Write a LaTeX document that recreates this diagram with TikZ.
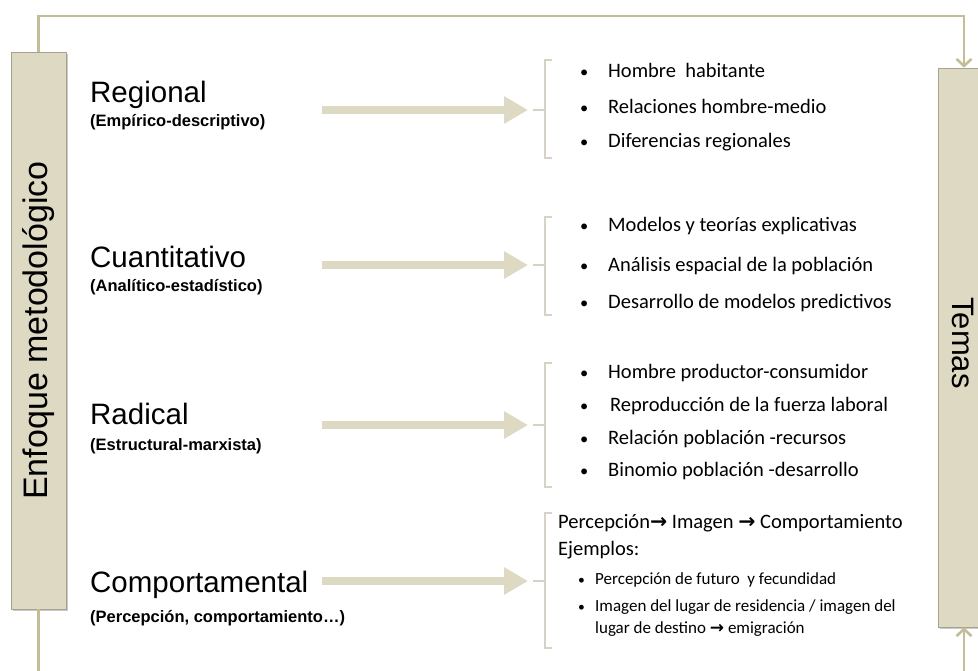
\documentclass[tikz,border=0pt]{standalone}
\usepackage{fontspec}
\setmainfont{Liberation Sans}
\newfontfamily\itemfont{Carlito}
\newfontfamily\arrowfont{DejaVu Sans}
\usetikzlibrary{arrows.meta,positioning,shadows}
\definecolor{tanfill}{HTML}{DDD9C3}
\definecolor{tanline}{HTML}{C4BD97}
\definecolor{tanedge}{HTML}{A6A28C}
\definecolor{brkcol}{HTML}{D6D3C6}
\newcommand\bl{\makebox[28pt][l]{\scalebox{.8}{•}}}
\newcommand\sbl{\makebox[17pt][l]{\scalebox{.8}{•}}}
\newcommand\rarr{{\arrowfont\bfseries →}}

\begin{document}
\begin{tikzpicture}[x=1pt,y=-1pt,>={Straight Barb[length=7pt,width=15pt]},
  side/.style={draw=tanedge,fill=tanfill,line width=0.6pt,inner sep=0pt,
    drop shadow={shadow xshift=2pt,shadow yshift=-2pt,opacity=.35,fill=black!60}},
  conn/.style={draw=tanline,line width=2.6pt},
  fat/.style={draw=tanfill,line width=8pt,-{Triangle[length=24pt,width=26pt]}},
  brk/.style={draw=brkcol,line width=1.4pt},
  ttl/.style={anchor=base west,inner sep=0pt,font=\fontsize{29.5}{31}\selectfont},
  sub/.style={anchor=base west,inner sep=0pt,font=\bfseries\fontsize{16.5}{18}\selectfont},
  item/.style={anchor=base west,inner sep=0pt,font=\itemfont\fontsize{20.5}{23}\selectfont},
  small/.style={anchor=base west,inner sep=0pt,font=\itemfont\fontsize{17}{20}\selectfont}]
\useasboundingbox (0,0) rectangle (978,670);
% side boxes
\node[side,minimum width=55pt,minimum height=557pt] (lbox) at (38.5,330.5) {};
\node[side,minimum width=52pt,minimum height=559pt] (rbox) at (964,347.5) {};
\node[rotate=90,font=\fontsize{34}{36}\selectfont] (lbl) at (lbox.center) {Enfoque metodológico};
\node[rotate=-90,font=\fontsize{31}{33}\selectfont] (rbl) at (963,343) {Temas};
\coordinate (top) at (500,16);
\coordinate (lfoot) at (38.5,680);
\coordinate (rfoot) at (964,680);
\draw[conn,->] (lbox.north) -- (lbox.north |- top) -| (rbox.north);
\draw[conn] (lbox.south) -- (lfoot);
\draw[conn,->] (rfoot) -- (rbox.south);
% approaches
\node[ttl] (regT) at (90,102) {Regional};
\node[sub] (regS) at (90,126) {(Empírico-descriptivo)};
\node[ttl] (cuaT) at (90,267) {Cuantitativo};
\node[sub] (cuaS) at (90,291) {(Analítico-estadístico)};
\node[ttl] (radT) at (90,424) {Radical};
\node[sub] (radS) at (90,450) {(Estructural-marxista)};
\node[ttl] (comT) at (90,592) {Comportamental};
\node[sub] (comS) at (90,622) {(Percepción, comportamiento…)};
% arrows
\foreach \n/\y in {1/110,2/265,3/425,4/581}{
  \coordinate (s\n) at (322,\y);
  \coordinate (t\n) at (528,\y);
  \draw[fat] (s\n) -- (t\n);
}
% brackets
\foreach \t/\b/\m in {60/158/110,217/315/265,363/487/425,513/648/581}{
  \draw[brk] (552,\t) -- (545,\t) -- (545,\b) -- (552,\b);
  \draw[brk] (533,\m) -- (545,\m);
}
% themes
\node[item] (reg1) at (580,77) {\bl Hombre\ \ habitante};
\node[item] (reg2) at (580,113) {\bl Relaciones hombre-medio};
\node[item] (reg3) at (580,147) {\bl Diferencias regionales};
\node[item] (cua1) at (580,231) {\bl Modelos y teorías explicativas};
\node[item] (cua2) at (580,271) {\bl Análisis espacial de la población};
\node[item] (cua3) at (580,308) {\bl Desarrollo de modelos predictivos};
\node[item] (rad1) at (580,378) {\bl Hombre productor-consumidor};
\node[item] (rad2) at (580,411) {\bl\hspace{2pt}Reproducción de la fuerza laboral};
\node[item] (rad3) at (580,444) {\bl Relación población -recursos};
\node[item] (rad4) at (580,476) {\bl Binomio población -desarrollo};
\node[item] (com1) at (558,528) {Percepción\rarr{} Imagen \rarr{} Comportamiento};
\node[item] (com2) at (558,555) {Ejemplos:};
\node[small] (com3) at (578,584) {\sbl Percepción de futuro\ \ y fecundidad};
\node[small] (com4) at (578,611) {\sbl Imagen del lugar de residencia / imagen del};
\node[small] (com5) at (595,633) {lugar de destino \rarr{} emigración};
\end{tikzpicture}
\end{document}
